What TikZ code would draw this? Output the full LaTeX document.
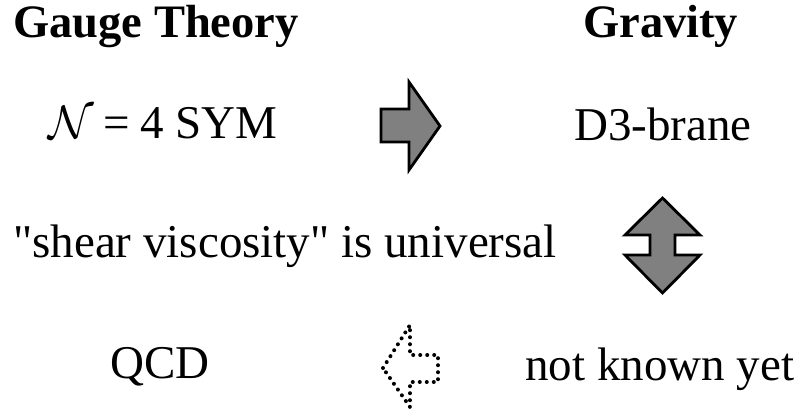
\documentclass[tikz,border=0pt]{standalone}
\usepackage{fontspec}
\setmainfont{Liberation Serif}
\usepackage{tikz}

\newcommand{\calN}{\scalebox{4.7}{\fontsize{10}{12}\selectfont$\mathcal{N}$}}

\begin{document}
\begin{tikzpicture}[
    x=1pt, y=-1pt,
    label/.style={anchor=base west, inner sep=0pt, font=\fontsize{47}{50}\selectfont},
    heading/.style={label, font=\fontsize{46.5}{50}\selectfont\bfseries},
    blockarrow/.style={draw=black, line width=2.8pt, line join=miter, fill=black!50},
    ghostarrow/.style={draw=black, line width=4pt, line cap=round, dash pattern=on 0pt off 7pt}
]
\useasboundingbox (0,0) rectangle (804,415);

% Headings
\node (gauge) [heading] at (13,37) {Gauge Theory};
\node (gravity) [heading] at (583,37) {Gravity};

% Rows
\node (sym) [label] at (48,138) {\calN\kern10pt=\kern10pt4 SYM};
\node (brane) [label] at (574,140) {D3-brane};
\node (viscosity) [label] at (13,257) {\textquotedbl shear viscosity\textquotedbl{} is universal};
\node (qcd) [label] at (110,378) {QCD};
\node (unknown) [label] at (525,380) {not known yet};

% Arrows
\draw [blockarrow] (381,109) -- (409,109) -- (409,82) -- (440,126) -- (409,170) -- (409,142) -- (381,142) -- cycle;
\draw [blockarrow] (662.5,198) -- (700,235) -- (675,235) -- (675,255) -- (700,255) -- (662.5,293)
    -- (625,255) -- (650,255) -- (650,235) -- (625,235) -- cycle;
\draw [ghostarrow] (383,368) -- (410,325) -- (410,355) -- (438,355) -- (438,382) -- (410,382) -- (410,407) -- cycle;

\end{tikzpicture}
\end{document}
